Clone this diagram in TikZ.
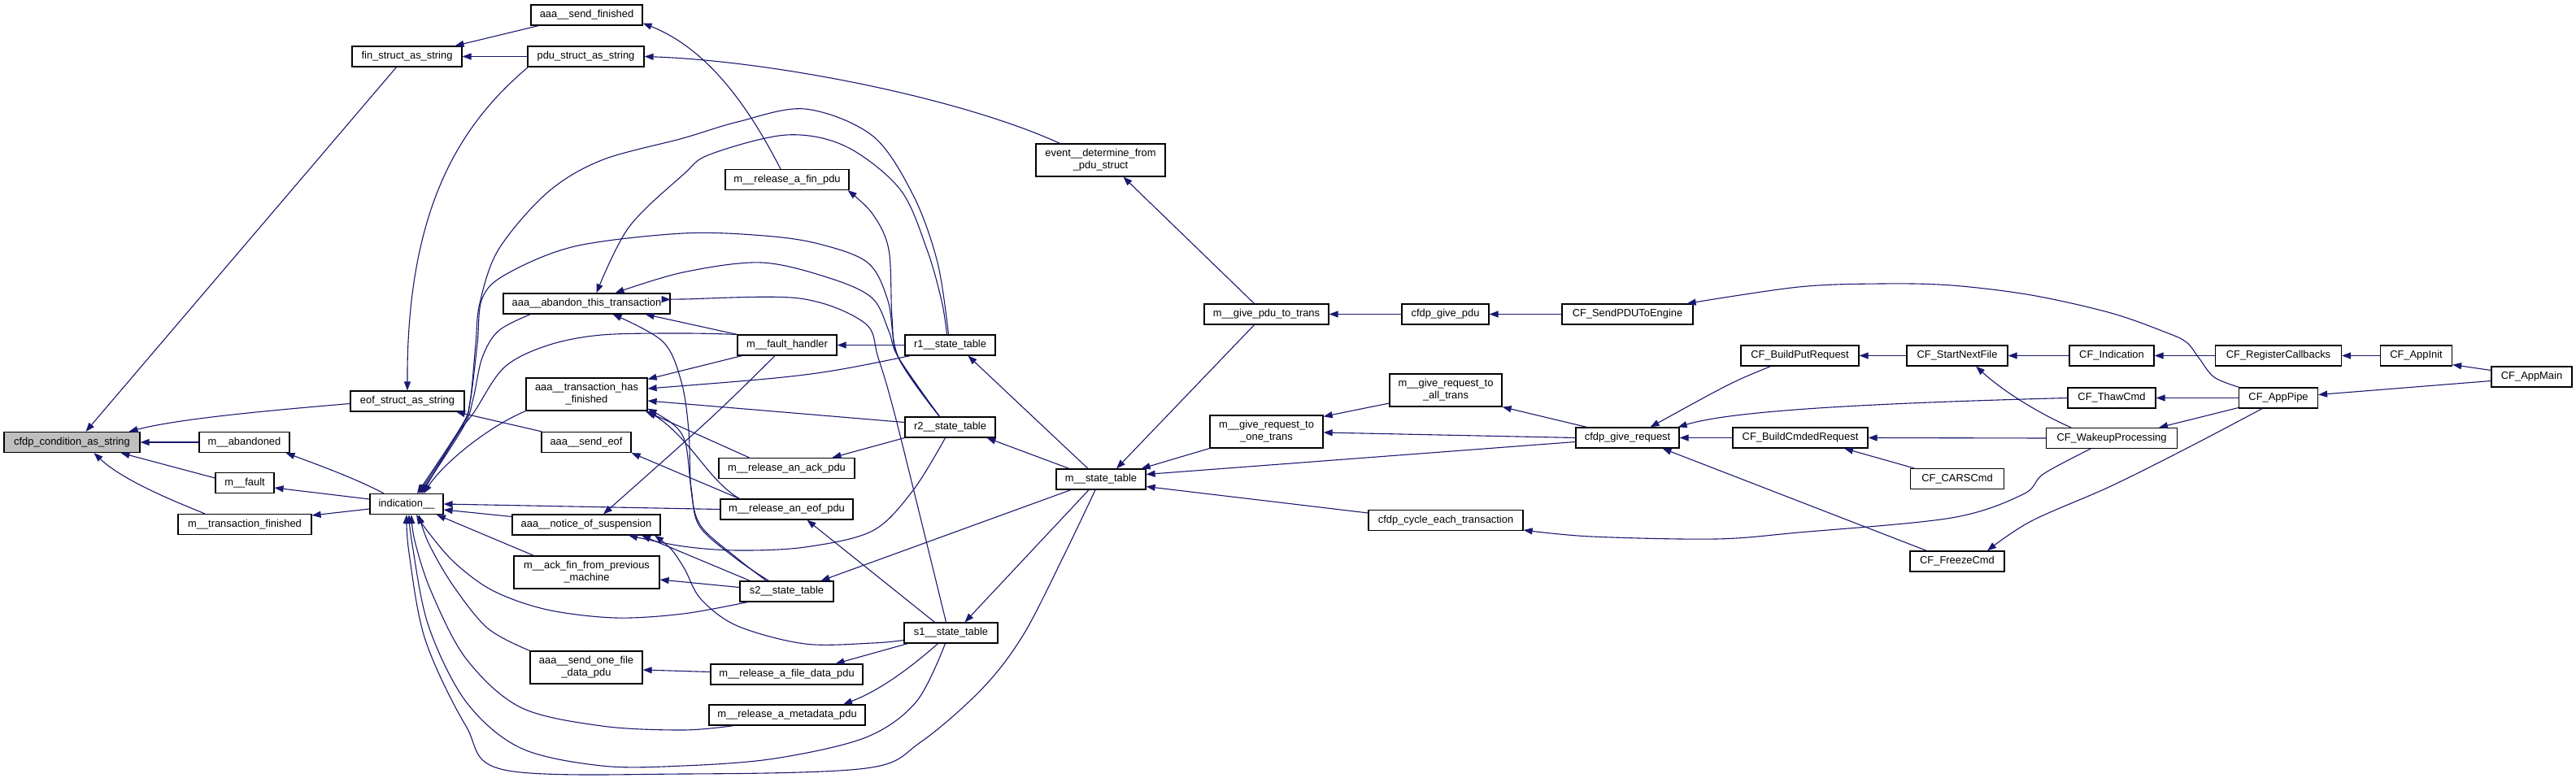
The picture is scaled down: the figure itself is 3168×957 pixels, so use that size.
\documentclass[tikz,border=0pt]{standalone}
\usepackage{fontspec}
\setmainfont{Liberation Sans}
\usetikzlibrary{arrows.meta}
\definecolor{eb}{HTML}{191970}
\definecolor{gf}{HTML}{BFBFBF}
\begin{document}
\begin{tikzpicture}[x=1pt,y=-1pt,
  box/.style={draw=black, line width=1.2pt, fill=white, inner sep=0pt, minimum height=25pt, align=center, font=\fontsize{12.9}{15}\selectfont},
  tall/.style={minimum height=40pt},
  bw/.style={minimum width=#1pt},
  e/.style={draw=eb, line width=1.1pt, -{Triangle[length=11pt,width=8pt]}}]
\useasboundingbox[fill=white] (0,0) rectangle (3168,957);
% nodes
\node[box,bw=167,fill=gf] (cond) at (88.5,544) {cfdp\_condition\_as\_string};
\node[box,bw=135] (fin) at (500.5,69.5) {fin\_struct\_as\_string};
\node[box,bw=140] (eof) at (501,493.5) {eof\_struct\_as\_string};
\node[box,bw=111] (aband) at (300.5,544) {m\_\_abandoned};
\node[box,bw=72] (fault) at (301,594) {m\_\_fault};
\node[box,bw=164] (tfin) at (301,645) {m\_\_transaction\_finished};
\node[box,bw=90] (ind) at (500,620) {indication\_\_};
\node[box,bw=137] (sendfin) at (721.5,18.5) {aaa\_\_send\_finished};
\node[box,bw=143] (pdu) at (720.5,69.5) {pdu\_struct\_as\_string};
\node[box,bw=205] (abandon) at (721.5,373.5) {aaa\_\_abandon\_this\_transaction};
\node[box,bw=149,tall] (hasfin) at (721.5,485) {aaa\_\_transaction\_has\\\_finished};
\node[box,bw=110] (sendeof) at (721,544) {aaa\_\_send\_eof};
\node[box,bw=182] (notice) at (721,645.5) {aaa\_\_notice\_of\_suspension};
\node[box,bw=179,tall] (ackfin) at (721.5,704) {m\_\_ack\_fin\_from\_previous\\\_machine};
\node[box,bw=138,tall] (sendone) at (721,821) {aaa\_\_send\_one\_file\\\_data\_pdu};
\node[box,bw=152] (finpdu) at (968,221) {m\_\_release\_a\_fin\_pdu};
\node[box,bw=122] (fh) at (968,424.5) {m\_\_fault\_handler};
\node[box,bw=167] (ackpdu) at (967.5,576) {m\_\_release\_an\_ack\_pdu};
\node[box,bw=163] (eofpdu) at (967.5,626.5) {m\_\_release\_an\_eof\_pdu};
\node[box,bw=115] (s2) at (967.5,727.5) {s2\_\_state\_table};
\node[box,bw=187] (filepdu) at (967.5,829.5) {m\_\_release\_a\_file\_data\_pdu};
\node[box,bw=192] (metapdu) at (968,879.5) {m\_\_release\_a\_metadata\_pdu};
\node[box,bw=111] (r1) at (1168.5,424.5) {r1\_\_state\_table};
\node[box,bw=111] (r2) at (1168.5,525.5) {r2\_\_state\_table};
\node[box,bw=115] (s1) at (1169.5,778.5) {s1\_\_state\_table};
\node[box,bw=159,tall] (event) at (1353.5,197) {event\_\_determine\_from\\\_pdu\_struct};
\node[box,bw=110] (mst) at (1354,589.5) {m\_\_state\_table};
\node[box,bw=153] (givepdu) at (1557.5,386.5) {m\_\_give\_pdu\_to\_trans};
\node[box,bw=139,tall] (one) at (1557.5,531) {m\_\_give\_request\_to\\\_one\_trans};
\node[box,bw=138,tall] (all) at (1778,480) {m\_\_give\_request\_to\\\_all\_trans};
\node[box,bw=107] (cfpdu) at (1777.5,386.5) {cfdp\_give\_pdu};
\node[box,bw=190] (cycle) at (1778,640) {cfdp\_cycle\_each\_transaction};
\node[box,bw=161] (sendpdu) at (2001.5,386.5) {CF\_SendPDUToEngine};
\node[box,bw=127] (givereq) at (2001.5,538.5) {cfdp\_give\_request};
\node[box,bw=145] (bput) at (2213.5,437.5) {CF\_BuildPutRequest};
\node[box,bw=166] (bcmd) at (2214,538.5) {CF\_BuildCmdedRequest};
\node[box,bw=124] (snf) at (2407,437.5) {CF\_StartNextFile};
\node[box,bw=115] (cars) at (2407,589) {CF\_CARSCmd};
\node[box,bw=116] (freeze) at (2407,690.5) {CF\_FreezeCmd};
\node[box,bw=104] (ind2) at (2597,437.5) {CF\_Indication};
\node[box,bw=108] (thaw) at (2597,489.5) {CF\_ThawCmd};
\node[box,bw=161] (wake) at (2597,539) {CF\_WakeupProcessing};
\node[box,bw=155] (regcb) at (2802,437.5) {CF\_RegisterCallbacks};
\node[box,bw=97] (pipe) at (2802,489.5) {CF\_AppPipe};
\node[box,bw=88] (init) at (2971.5,437.5) {CF\_AppInit};
\node[box,bw=99] (main) at (3113.5,463.5) {CF\_AppMain};
% left cluster
\draw[e] ([xshift=-13]fin.south) -- ([xshift=17]cond.north);
\draw[e] ([yshift=-3]eof.west) .. controls (330,505) and (220,515) .. ([xshift=70]cond.north);
\draw[e] (aband.west) -- (cond.east);
\draw[e] ([yshift=6]fault.west) -- ([xshift=60]cond.south);
\draw[e] ([xshift=-49]tfin.north) .. controls (210,615) and (150,590) .. ([xshift=27]cond.south);
\draw[e] ([xshift=10]sendfin.south west) -- ([xshift=59]fin.north);
\draw[e] (pdu.west) -- (fin.east);
\draw[e] ([xshift=1]pdu.south west) .. controls (570,150) and (500,250) .. (eof.north);
\draw[e] ([xshift=1]sendeof.north west) -- ([xshift=60]eof.south);
\draw[e] ([xshift=-28]ind.north) .. controls (440,590) and (400,575) .. ([xshift=51]aband.south);
\draw[e] ([yshift=6]ind.west) -- ([yshift=-6]fault.east);
\draw[e] ([yshift=-6]ind.west) -- ([yshift=11]tfin.east);
\draw[e] ([xshift=-50]event.north) .. controls (1180,120) and (950,75) .. (pdu.east);
\draw[e] ([xshift=-8]finpdu.north) .. controls (920,130) and (870,60) .. ([yshift=-10]sendfin.east);
% into indication from above
\draw[e] plot[smooth,tension=0.55] coordinates {([xshift=-2]r1.north) (1153,323) (1123,240) (1073,167) (990,134) (907,150) (840,170) (740,197) (673,237) (613,307) (590,373) (585,423) (578,495) (568,525) ([xshift=15]ind.north)};
\draw[e] plot[smooth,tension=0.55] coordinates {([xshift=-13]r2.north) (1105,440) (1092,370) (1067,323) (1007,300) (940,290) (840,287) (707,303) (623,337) (593,367) (587,423) (578,495) (567,525) ([xshift=13]ind.north)};
\draw[e] plot[smooth,tension=0.55] coordinates {(fh.north west) (840,410) (740,412) (673,425) (620,452) (583,507) (562,535) ([xshift=19]ind.north)};
\draw[e] plot[smooth,tension=0.55] coordinates {([xshift=34]abandon.south west) (613,407) (593,440) (582,490) (570,525) ([xshift=17]ind.north)};
\draw[e] (hasfin.south west) .. controls (600,525) and (545,570) .. ([xshift=21]ind.north);
% into abandon
\draw[e] plot[smooth,tension=0.55] coordinates {([xshift=-4]r1.north) (1158,370) (1140,307) (1107,233) (1040,180) (967,166) (873,190) (840,215) (773,280) ([xshift=12]abandon.north)};
\draw[e] plot[smooth,tension=0.55] coordinates {([xshift=-13]r2.north) (1105,440) (1093,407) (1073,367) (1023,343) (937,323) (840,335) ([xshift=35]abandon.north)};
\draw[e] plot[smooth,tension=0.55] coordinates {([xshift=-13]r2.north) (1105,440) (1097,390) (1093,307) (1073,263) ([xshift=-2]finpdu.south east)};
\draw[e] plot[smooth,tension=0.55] coordinates {([xshift=-6]s1.north) (1103,520) (1080,440) (1063,397) (983,367) (840,368) ([yshift=5]abandon.east)};
\draw[e] plot[smooth,tension=0.55] coordinates {([xshift=-25]s2.north) (907,687) (862,647) (850,603) (847,530) (838,470) (815,420) ([xshift=32]abandon.south)};
\draw[e] plot[smooth,tension=0.55] coordinates {([xshift=-22]s2.north) (905,687) (860,647) (850,600) (843,545) (828,522) ([yshift=3]hasfin.south east)};
\draw[e] (fh.north west) -- ([xshift=-31]abandon.south east);
% into has_finished
\draw[e] ([xshift=6]fh.south west) -- ([yshift=-2]hasfin.north east);
\draw[e] ([xshift=-15]fh.south) .. controls (880,510) .. ([xshift=21]notice.north);
\draw[e] (r1.west) -- (fh.east);
\draw[e] ([xshift=7]r1.south west) .. controls (1000,462) .. ([yshift=7]hasfin.east);
\draw[e] ([yshift=6]r2.west) -- ([yshift=-8]hasfin.east);
\draw[e] ([xshift=38]ackpdu.north west) -- ([xshift=-3]hasfin.south east);
\draw[e] ([xshift=24]eofpdu.north west) .. controls (870,590) and (850,540) .. (hasfin.south east);
\draw[e] ([xshift=24]eofpdu.north west) -- (sendeof.south east);
% right of indication
\draw[e] (eofpdu.west) -- (ind.east);
\draw[e] ([yshift=10]notice.west) -- ([yshift=-7]ind.east);
\draw[e] ([xshift=25]ackfin.north west) -- ([xshift=37]ind.south);
\draw[e] plot[smooth,tension=0.55] coordinates {(sendone.north west) (600,773) (557,720) (527,668) ([xshift=15]ind.south)};
\draw[e] plot[smooth,tension=0.55] coordinates {([xshift=10]s2.south west) (840,755) (757,760) (673,750) (607,727) (560,693) (527,655) ([xshift=12]ind.south)};
\draw[e] plot[smooth,tension=0.55] coordinates {([xshift=31]metapdu.south west) (840,898) (740,893) (640,870) (573,810) (530,727) (510,665) ([xshift=6]ind.south)};
\draw[e] plot[smooth,tension=0.55] coordinates {([xshift=-7]s1.south) (1127,863) (1065,907) (953,933) (840,942) (740,942) (640,920) (573,863) (527,770) (507,670) ([xshift=3]ind.south)};
\draw[e] plot[smooth,tension=0.55] coordinates {([xshift=-7]mst.south) (1310,680) (1259,780) (1208,847) (1132,913) (1065,945) (840,952) (620,947) (573,893) (523,787) (503,680) (ind.south)};
% state tables
\draw[e] ([xshift=-16]mst.north) -- ([xshift=22]r1.south);
\draw[e] ([xshift=-39]mst.north) -- ([xshift=-11]r2.south east);
\draw[e] ([xshift=-37]mst.south) -- ([xshift=42]s2.north);
\draw[e] ([xshift=-15]mst.south) -- ([xshift=17]s1.north);
\draw[e] ([xshift=-20]s1.north) -- ([xshift=25]eofpdu.south);
\draw[e] ([xshift=5]s1.south west) -- ([xshift=60]filepdu.north);
\draw[e] ([xshift=-16]s1.south) .. controls (1110,830) and (1075,852) .. ([xshift=69]metapdu.north);
\draw[e] plot[smooth,tension=0.55] coordinates {([yshift=-9]s1.west) (1073,791) (990,792) (907,770) (862,737) (842,700) (825,675) ([xshift=84]notice.south)};
\draw[e] plot[smooth,tension=0.55] coordinates {([xshift=-6]r2.south) (1123,603) (1073,653) (990,673) (907,677) (840,672) ([xshift=52]notice.south)};
\draw[e] ([xshift=13]s2.north west) -- ([xshift=68]notice.south);
\draw[e] ([yshift=5]s2.west) -- ([yshift=-9]ackfin.east);
\draw[e] ([yshift=3]filepdu.west) -- ([yshift=-3]sendone.east);
\draw[e] (r2.south west) -- ([xshift=56]ackpdu.north);
% middle
\draw[e] ([xshift=-15]givepdu.north) -- ([xshift=28]event.south);
\draw[e] ([xshift=-15]givepdu.south) -- ([xshift=19]mst.north);
\draw[e] (one.south west) -- ([xshift=-6]mst.north east);
\draw[e] ([yshift=-5]givereq.west) -- ([yshift=6]mst.east);
\draw[e] ([yshift=9]cycle.west) -- ([yshift=-9]mst.east);
\draw[e] ([yshift=-16]all.west) -- ([yshift=-2]one.north east);
\draw[e] (givereq.west) -- ([yshift=-1]one.east);
\draw[e] ([xshift=-50]givereq.north) -- (all.south east);
\draw[e] (cfpdu.west) -- (givepdu.east);
\draw[e] (sendpdu.west) -- (cfpdu.east);
\draw[e] ([xshift=-36]bput.south) .. controls (2130,470) .. ([xshift=28]givereq.north);
\draw[e] (thaw.west) .. controls (2300,496) and (2130,505) .. ([xshift=-2]givereq.north east);
\draw[e] (bcmd.west) -- (givereq.east);
\draw[e] ([xshift=21]freeze.north west) -- ([xshift=43]givereq.south);
\draw[e] ([xshift=5]cars.north west) -- ([xshift=54]bcmd.south);
\draw[e] (wake.west) -- (bcmd.east);
\draw[e] plot[smooth,tension=0.55] coordinates {([xshift=-26]wake.south) (2513,583) (2488,608) (2400,637) (2212,655) (2110,663) (1957,660) ([yshift=-12]cycle.east)};
% right cluster
\draw[e] (snf.west) -- (bput.east);
\draw[e] (ind2.west) -- (snf.east);
\draw[e] (regcb.west) -- (ind2.east);
\draw[e] (init.west) -- (regcb.east);
\draw[e] ([yshift=8]main.west) -- ([yshift=2]init.south east);
\draw[e] ([yshift=-5]main.west) -- ([yshift=4]pipe.east);
\draw[e] plot[smooth,tension=0.55] coordinates {([xshift=1]pipe.north west) (2723,464) (2704,440) (2689,421) (2664,409) (2596,385) (2498,363) (2400,351) (2314,349) (2212,353) ([xshift=-8]sendpdu.north east)};
\draw[e] (pipe.west) -- (thaw.east);
\draw[e] ([yshift=-12]pipe.west) -- ([xshift=58]wake.north);
\draw[e] plot[smooth,tension=0.55] coordinates {([xshift=-20]pipe.south) (2694,549) (2596,598) (2498,641) ([xshift=37]freeze.north)};
\draw[e] ([xshift=-50]wake.north) .. controls (2500,505) and (2460,478) .. ([xshift=23]snf.south);
\end{tikzpicture}
\end{document}
